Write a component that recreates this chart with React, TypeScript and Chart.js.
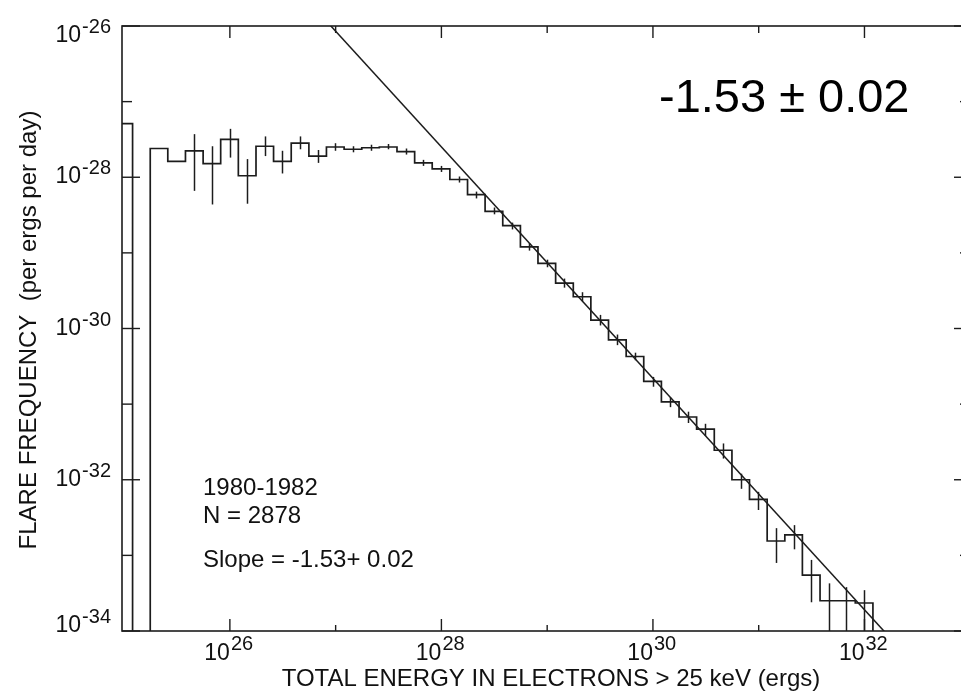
import React, { useEffect, useRef } from "react";
import { Chart, registerables } from "chart.js";

Chart.register(...registerables);

// Histogram bin edges, log10 of total energy in electrons > 25 keV (ergs)
const binEdgesLogE = [
  24.913, 25.08, 25.247, 25.413, 25.58, 25.747, 25.913, 26.08, 26.247, 26.413,
  26.58, 26.747, 26.913, 27.08, 27.247, 27.413, 27.58, 27.747, 27.913, 28.08,
  28.247, 28.413, 28.58, 28.747, 28.913, 29.08, 29.247, 29.413, 29.58, 29.747,
  29.913, 30.08, 30.247, 30.413, 30.58, 30.747, 30.913, 31.08, 31.247, 31.413,
  31.58, 31.747, 31.913, 32.08,
];

// log10 flare frequency per bin (per erg per day); null = empty bin
const binFreqLog: (number | null)[] = [
  -27.29, null, -27.62, -27.79, -27.65, -27.82, -27.5, -27.98, -27.59, -27.79,
  -27.55, -27.72, -27.6, -27.63, -27.61, -27.6, -27.66, -27.81, -27.89, -28.03,
  -28.23, -28.45, -28.64, -28.92, -29.14, -29.4, -29.58, -29.89, -30.15, -30.37,
  -30.7, -30.97, -31.17, -31.33, -31.61, -32.0, -32.26, -32.81, -32.73, -33.26,
  -33.6, -33.6, -33.63,
];

// Error bar limits per bin (log10); null = no bar
const errUpperLog: (number | null)[] = [
  null, null, null, null, -27.43, -27.59, -27.36, -27.76, -27.46, -27.65,
  -27.46, -27.64, -27.55, -27.59, -27.57, -27.56, -27.62, -27.77, -27.85, -27.99,
  -28.19, -28.4, -28.6, -28.87, -29.09, -29.34, -29.52, -29.82, -30.08, -30.32,
  -30.64, -30.91, -31.1, -31.26, -31.52, -31.92, -32.16, -32.64, -32.6, -33.06,
  -33.37, -33.42, -33.46,
];
const errLowerLog: (number | null)[] = [
  null, null, null, null, -28.18, -28.36, -27.74, -28.35, -27.72, -27.95,
  -27.63, -27.81, -27.65, -27.67, -27.65, -27.63, -27.7, -27.85, -27.93, -28.07,
  -28.28, -28.49, -28.69, -28.97, -29.19, -29.46, -29.64, -29.96, -30.22, -30.42,
  -30.77, -31.04, -31.25, -31.42, -31.72, -32.12, -32.4, -33.1, -32.92, -33.62,
  -35, -35, -35,
];

// Power-law fit: slope and a point it passes through (log10 E, log10 F)
const fitSlope = -1.53;
const fitAnchor = [26.955, -26];

// Axis ranges (log10) and tick exponents
const xRangeLog = [24.98, 32.96];
const yRangeLog = [-34, -26];
const xMajorExps = [26, 28, 30, 32];
const xMinorExps = [27, 29, 31];
const yMajorExps = [-26, -28, -30, -32, -34];
const yMinorExps = [-27, -29, -31, -33];
const emptyBinLog = -40;

const xTitle = "TOTAL ENERGY IN ELECTRONS > 25 keV (ergs)";
const yTitle = "FLARE FREQUENCY  (per ergs per day)";
const noteLines = ["1980-1982", "N = 2878", "Slope = -1.53+ 0.02"];
const slopeLabel = "-1.53 ± 0.02";

const FONT = '"Liberation Sans", Arial, Helvetica, sans-serif';
const INK = "#1c1c1c";

const decorPlugin = {
  id: "decor",
  afterDatasetsDraw(chart: any) {
    const { ctx, chartArea: a, scales } = chart;
    const xs = scales.x;
    const ys = scales.y;
    const px = (l: number) => xs.getPixelForValue(Math.pow(10, l));
    const py = (l: number) => ys.getPixelForValue(Math.pow(10, l));

    ctx.save();
    // error bars at bin centres
    ctx.beginPath();
    ctx.rect(a.left, a.top, a.right - a.left, a.bottom - a.top);
    ctx.clip();
    ctx.strokeStyle = INK;
    ctx.lineWidth = 1.5;
    for (let k = 0; k < binFreqLog.length; k++) {
      const hi = errUpperLog[k];
      const lo = errLowerLog[k];
      if (hi === null || lo === null) continue;
      const xc = Math.round(px((binEdgesLogE[k] + binEdgesLogE[k + 1]) / 2)) + 0.5;
      ctx.beginPath();
      ctx.moveTo(xc, py(hi));
      ctx.lineTo(xc, py(lo));
      ctx.stroke();
    }
    ctx.restore();

    ctx.save();
    // frame
    ctx.strokeStyle = INK;
    ctx.lineWidth = 1.6;
    ctx.strokeRect(a.left, a.top, a.right - a.left, a.bottom - a.top);

    // ticks, pointing inward
    ctx.lineWidth = 1.4;
    const tick = (x1: number, y1: number, x2: number, y2: number) => {
      ctx.beginPath();
      ctx.moveTo(x1, y1);
      ctx.lineTo(x2, y2);
      ctx.stroke();
    };
    xMajorExps.forEach((e) => {
      const x = px(e);
      tick(x, a.bottom, x, a.bottom - 12);
      tick(x, a.top, x, a.top + 12);
    });
    xMinorExps.forEach((e) => {
      const x = px(e);
      tick(x, a.bottom, x, a.bottom - 6);
      tick(x, a.top, x, a.top + 7);
    });
    yMajorExps.forEach((e) => {
      const y = py(e);
      tick(a.left, y, a.left + 18, y);
      tick(a.right, y, a.right - 12, y);
    });
    yMinorExps.forEach((e) => {
      const y = py(e);
      tick(a.left, y, a.left + 10, y);
      tick(a.right, y, a.right - 6, y);
    });

    // tick labels as powers of ten
    ctx.fillStyle = "#111";
    ctx.textBaseline = "alphabetic";
    const baseFont = `23px ${FONT}`;
    const expFont = `20px ${FONT}`;
    xMajorExps.forEach((e) => {
      const x = px(e);
      ctx.font = baseFont;
      ctx.textAlign = "right";
      ctx.fillText("10", x, a.bottom + 29);
      ctx.font = expFont;
      ctx.textAlign = "left";
      ctx.fillText(String(e), x + 1, a.bottom + 19);
    });
    yMajorExps.forEach((e) => {
      const y = py(e);
      const base = Math.min(Math.max(y + 6, a.top + 16), a.bottom + 1);
      ctx.font = expFont;
      const we = ctx.measureText(String(e)).width;
      ctx.textAlign = "right";
      ctx.fillText(String(e), a.left - 11, base - 9);
      ctx.font = baseFont;
      ctx.fillText("10", a.left - 12 - we, base);
    });

    // axis titles
    ctx.font = `24px ${FONT}`;
    ctx.textAlign = "center";
    ctx.fillText(xTitle, 551, a.bottom + 55);
    ctx.save();
    ctx.translate(36, 330);
    ctx.rotate(-Math.PI / 2);
    ctx.fillText(yTitle, 0, 0);
    ctx.restore();

    // notes
    ctx.fillStyle = "#111";
    ctx.textAlign = "left";
    ctx.font = `24px ${FONT}`;
    ctx.fillText(noteLines[0], 203, 495);
    ctx.fillText(noteLines[1], 203, 523);
    ctx.fillText(noteLines[2], 203, 567);

    ctx.fillStyle = "#000";
    ctx.font = `47px ${FONT}`;
    ctx.fillText(slopeLabel, 659, 112);
    ctx.restore();
  },
};

export default function App() {
  const ref = useRef<HTMLCanvasElement | null>(null);

  useEffect(() => {
    const canvas = ref.current;
    if (!canvas) return;

    const histPoints = binFreqLog.map((v, k) => ({
      x: Math.pow(10, binEdgesLogE[k]),
      y: Math.pow(10, v === null ? emptyBinLog : v),
    }));
    histPoints.push({
      x: Math.pow(10, binEdgesLogE[binEdgesLogE.length - 1]),
      y: Math.pow(10, emptyBinLog),
    });

    const fitPoints = xRangeLog.map((le) => ({
      x: Math.pow(10, le),
      y: Math.pow(10, fitAnchor[1] + fitSlope * (le - fitAnchor[0])),
    }));

    const chart = new Chart(canvas, {
      type: "line",
      data: {
        datasets: [
          {
            data: histPoints,
            stepped: "before",
            borderColor: INK,
            borderWidth: 1.7,
            pointRadius: 0,
            fill: false,
          },
          {
            data: fitPoints,
            borderColor: INK,
            borderWidth: 1.5,
            pointRadius: 0,
            fill: false,
          },
        ],
      },
      options: {
        animation: false,
        responsive: false,
        devicePixelRatio: 1,
        layout: { padding: { left: 122, right: 9, top: 26, bottom: 60 } },
        plugins: {
          legend: { display: false },
          title: { display: false },
          tooltip: { enabled: false },
        },
        events: [],
        scales: {
          x: {
            type: "logarithmic",
            display: false,
            bounds: "data",
            min: Math.pow(10, xRangeLog[0]),
            max: Math.pow(10, xRangeLog[1]),
          },
          y: {
            type: "logarithmic",
            display: false,
            bounds: "data",
            min: Math.pow(10, yRangeLog[0]),
            max: Math.pow(10, yRangeLog[1]),
          },
        },
      },
      plugins: [decorPlugin],
    });

    return () => chart.destroy();
  }, []);

  return (
    <div
      style={{
        position: "fixed",
        left: 0,
        top: 0,
        width: 961,
        height: 691,
        overflow: "hidden",
        background: "#fff",
      }}
    >
      <canvas ref={ref} width={975} height={691} style={{ display: "block", width: 975, height: 691 }} />
    </div>
  );
}
